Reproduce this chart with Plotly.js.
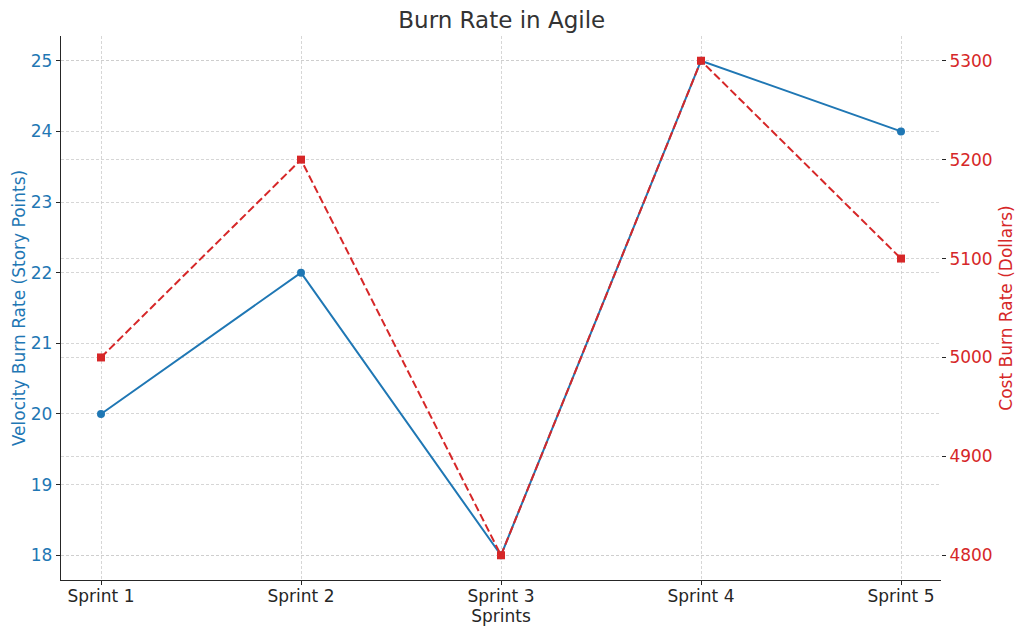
<!DOCTYPE html>
<html>
<head>
<meta charset="utf-8">
<script src="https://cdn.plot.ly/plotly-3.0.1.min.js"></script>
<style>html,body{margin:0;padding:0;background:#fff;}#chart{width:1024px;height:636px;}</style>
</head>
<body>
<div id="chart"></div>
<script>
const sprints = ["Sprint 1", "Sprint 2", "Sprint 3", "Sprint 4", "Sprint 5"];
const velocity = [20, 22, 18, 25, 24];
const cost = [5000, 5200, 4800, 5300, 5100];

const FONT = "DejaVu Sans, sans-serif";
const BLUE = "#1f77b4";
const RED = "#d62728";
const GRID = "#cccccc";

const traces = [
  {
    x: sprints, y: velocity, type: "scatter", mode: "lines+markers",
    name: "Velocity Burn Rate", yaxis: "y",
    line: {color: BLUE, width: 2},
    marker: {color: BLUE, size: 8, symbol: "circle"},
    cliponaxis: false
  },
  {
    x: sprints, y: cost, type: "scatter", mode: "lines+markers",
    name: "Cost Burn Rate", yaxis: "y2",
    line: {color: RED, width: 2, dash: "8px,3.5px"},
    marker: {color: RED, size: 8, symbol: "square"},
    cliponaxis: false
  }
];

const layout = {
  width: 1024, height: 636,
  paper_bgcolor: "#fff", plot_bgcolor: "#fff",
  margin: {l: 61, r: 83, t: 36, b: 56},
  showlegend: false,
  font: {family: FONT, size: 17, color: "#262626"},
  title: {text: "Burn Rate in Agile", font: {family: FONT, size: 23, color: "#333333"}, x: 0.49, xanchor: "center", y: 0.968, yanchor: "middle"},
  xaxis: {
    type: "category",
    range: [-0.2, 4.2],
    showline: true, linecolor: "#262626", linewidth: 1.3,
    ticks: "outside", ticklen: 4, tickcolor: "#262626", tickwidth: 1,
    ticklabelstandoff: -4,
    tickfont: {family: FONT, size: 17, color: "#262626"},
    showgrid: true, gridcolor: GRID, gridwidth: 0.8, griddash: "3px,2px",
    zeroline: false,
    title: {text: "Sprints", font: {family: FONT, size: 17, color: "#262626"}, standoff: 4},
    automargin: false
  },
  yaxis: {
    range: [17.65, 25.35],
    dtick: 1,
    showline: true, linecolor: "#262626", linewidth: 1.3,
    ticks: "outside", ticklen: 4, tickcolor: "#262626", tickwidth: 1,
    tickfont: {family: FONT, size: 17, color: BLUE},
    showgrid: true, gridcolor: GRID, gridwidth: 0.8, griddash: "3px,2px",
    zeroline: false,
    title: {text: "Velocity Burn Rate (Story Points)", font: {family: FONT, size: 17, color: BLUE}, standoff: 0},
    automargin: false
  },
  yaxis2: {
    overlaying: "y", side: "right",
    range: [4775, 5325],
    dtick: 100,
    showline: false,
    ticks: "outside", ticklen: 4, tickcolor: "#262626", tickwidth: 1,
    tickfont: {family: FONT, size: 17, color: RED},
    showgrid: true, gridcolor: GRID, gridwidth: 0.8, griddash: "3px,2px",
    zeroline: false,
    title: {text: "Cost Burn Rate (Dollars)", font: {family: FONT, size: 17, color: RED}, standoff: 8},
    automargin: false
  }
};

Plotly.newPlot("chart", traces, layout, {displayModeBar: false, staticPlot: true});
</script>
</body>
</html>
